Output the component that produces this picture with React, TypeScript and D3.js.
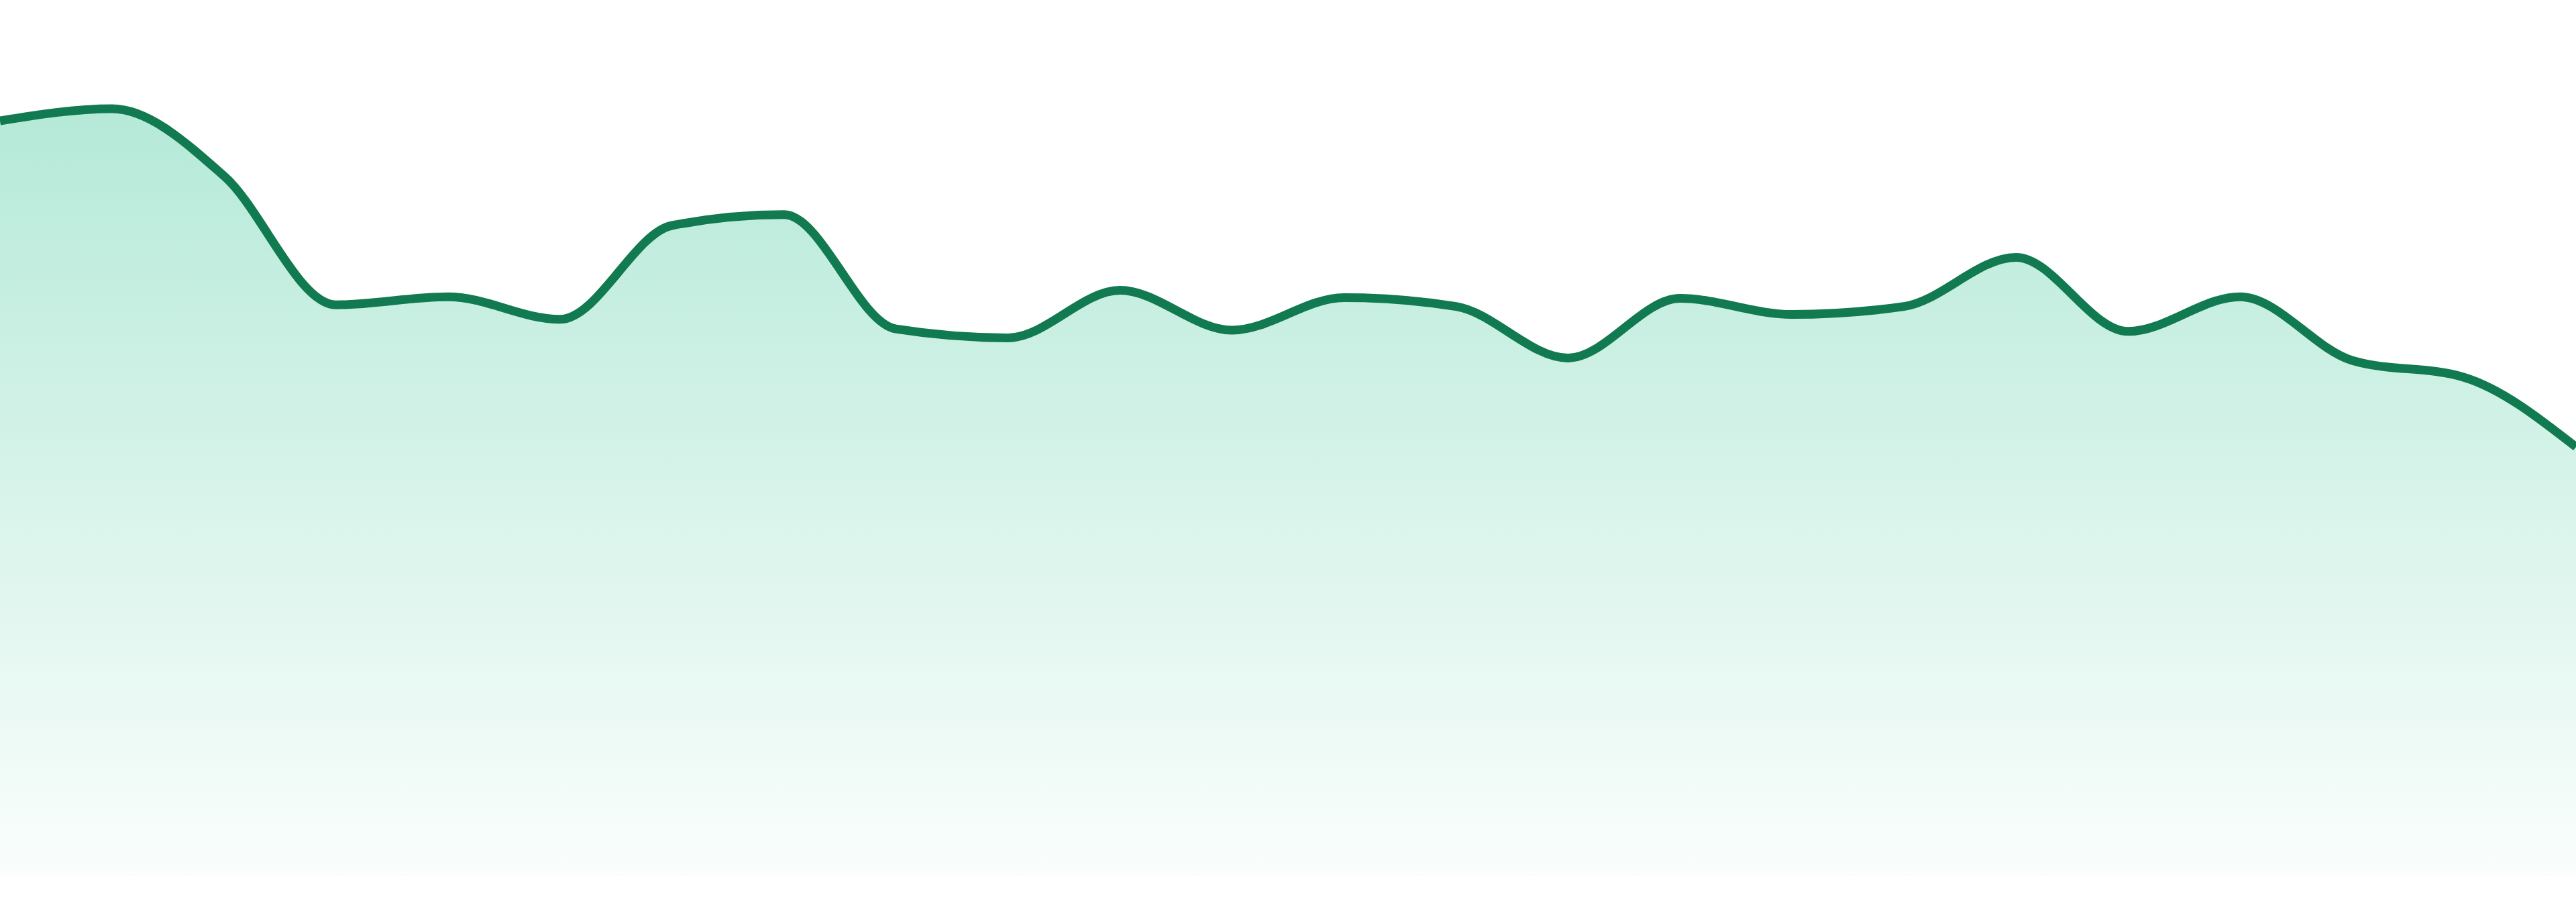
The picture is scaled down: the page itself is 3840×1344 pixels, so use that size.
import React, { useRef, useEffect } from "react";
import * as d3 from "d3";

// index of each sample along the x axis
const points = d3.range(24);

// series values
const values = [
  93.75, 95.25, 86.9, 70.9, 71.9, 69.1, 80.75, 82.1, 67.9, 66.8, 72.7, 67.75,
  71.8, 70.7, 64.3, 71.7, 69.7, 70.7, 76.8, 67.6, 71.9, 64.0, 61.9, 53.25,
];

const width = 3840;
const height = 1344;

export default function App() {
  const svgRef = useRef<SVGSVGElement>(null);

  useEffect(() => {
    if (!svgRef.current) return;

    const svg = d3.select(svgRef.current);
    svg.selectAll("*").remove();

    const x = d3
      .scaleLinear()
      .domain([0, points.length - 1])
      .range([0, width]);

    const y = d3.scaleLinear().domain([0, 100]).range([1305, 105]);

    const data = points.map((p, i) => ({ x: p, v: values[i] }));

    // グラデーション
    const defs = svg.append("defs");
    const grad = defs
      .append("linearGradient")
      .attr("id", "areaFill")
      .attr("x1", 0)
      .attr("y1", 0)
      .attr("x2", 0)
      .attr("y2", 1);
    grad
      .append("stop")
      .attr("offset", "0%")
      .attr("stop-color", "#10b981")
      .attr("stop-opacity", 0.31);
    grad
      .append("stop")
      .attr("offset", "100%")
      .attr("stop-color", "#10b981")
      .attr("stop-opacity", 0.02);

    const area = d3
      .area<{ x: number; v: number }>()
      .x((d) => x(d.x))
      .y0(y(0))
      .y1((d) => y(d.v))
      .curve(d3.curveMonotoneX);

    const line = d3
      .line<{ x: number; v: number }>()
      .x((d) => x(d.x))
      .y((d) => y(d.v))
      .curve(d3.curveMonotoneX);

    svg
      .append("path")
      .datum(data)
      .attr("d", area)
      .attr("fill", "url(#areaFill)");

    svg
      .append("path")
      .datum(data)
      .attr("d", line)
      .attr("fill", "none")
      .attr("stroke", "#117a50")
      .attr("stroke-width", 13)
      .attr("stroke-linejoin", "round");
  }, []);

  return (
    <svg
      ref={svgRef}
      width={width}
      height={height}
      viewBox={`0 0 ${width} ${height}`}
      style={{ position: "absolute", left: 0, top: 0, display: "block" }}
    />
  );
}
